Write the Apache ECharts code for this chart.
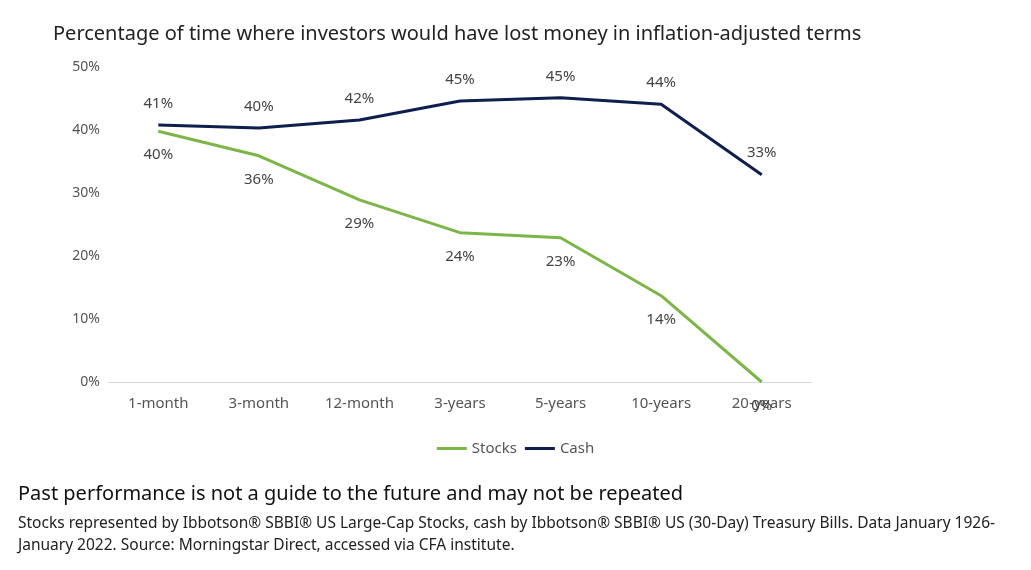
<!DOCTYPE html>
<html><head><meta charset="utf-8">
<script src="https://cdn.jsdelivr.net/npm/echarts@6/dist/echarts.min.js"></script>
<style>body{margin:0;background:#fff}#c{width:1031px;height:570px}</style>
</head><body><div id="c"></div>
<script>
const categories=['1-month','3-month','12-month','3-years','5-years','10-years','20-years'];
const stocks=[39.8,35.9,28.9,23.7,22.9,13.7,0];
const cash=[40.8,40.3,41.6,44.6,45.1,44.1,32.9];
const yTicks=[0,10,20,30,40,50];
const stockLabels=['40%','36%','29%','24%','23%','14%','0%'];
const cashLabels=['41%','40%','42%','45%','45%','44%','33%'];
const F='"Noto Sans","Open Sans",sans-serif';
const chart=echarts.init(document.getElementById('c'));
chart.setOption({
 animation:false,
 textStyle:{fontFamily:F},
 title:[
  {text:'Percentage of time where investors would have lost money in inflation-adjusted terms',left:48,top:19,textStyle:{fontFamily:F,fontSize:20,fontWeight:'normal',color:'#222'}},
  {text:'Past performance is not a guide to the future and may not be repeated',left:13,top:479,textStyle:{fontFamily:F,fontSize:20,fontWeight:'normal',color:'#111'}},
  {text:'Stocks represented by Ibbotson® SBBI® US Large-Cap Stocks, cash by Ibbotson® SBBI® US (30-Day) Treasury Bills. Data January 1926-\nJanuary 2022. Source: Morningstar Direct, accessed via CFA institute.',left:13,top:508,textStyle:{fontFamily:F,fontSize:15.5,fontWeight:'normal',color:'#222',lineHeight:22}}
 ],
 legend:{data:['Stocks','Cash'],top:436,left:'center',itemWidth:30,itemHeight:3,icon:'rect',textStyle:{fontFamily:F,fontSize:15,color:'#555'}},
 grid:{left:108,right:219,top:67,bottom:188},
 xAxis:{type:'category',data:categories,boundaryGap:true,axisTick:{show:false},axisLine:{lineStyle:{color:'#d9d9d9'}},axisLabel:{fontFamily:F,fontSize:15,color:'#555',margin:14}},
 yAxis:{type:'value',min:0,max:50,interval:10,splitLine:{show:false},axisLine:{show:false},axisTick:{show:false},axisLabel:{fontFamily:F,fontSize:14,color:'#555',formatter:v=>yTicks.includes(v)?v+'%':''}},
 series:[
  {name:'Stocks',type:'line',data:stocks,symbol:'circle',symbolSize:0.1,showSymbol:true,lineStyle:{width:3,color:'#7cb548'},itemStyle:{color:'#7cb548'},
   label:{show:true,position:'bottom',distance:16,fontFamily:F,fontSize:15,color:'#444',formatter:p=>stockLabels[p.dataIndex]}},
  {name:'Cash',type:'line',data:cash,symbol:'circle',symbolSize:0.1,showSymbol:true,lineStyle:{width:3,color:'#0e1f4d'},itemStyle:{color:'#0e1f4d'},
   label:{show:true,position:'top',distance:14,fontFamily:F,fontSize:15,color:'#444',formatter:p=>cashLabels[p.dataIndex]}}
 ]
});
</script></body></html>
